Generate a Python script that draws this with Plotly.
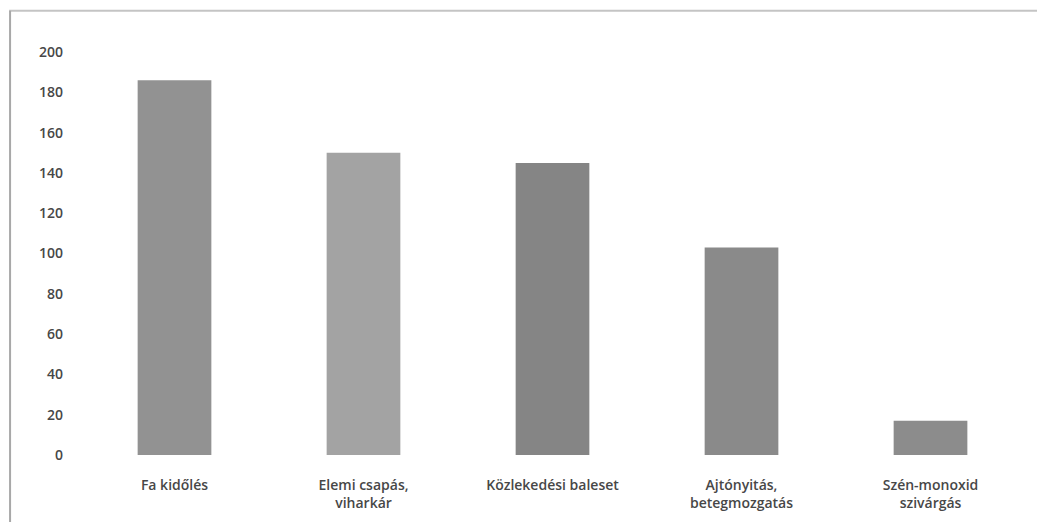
import plotly.graph_objects as go

# categories and values
categories = ["Fa kidőlés", "Elemi csapás,<br>viharkár", "Közlekedési baleset",
              "Ajtónyitás,<br>betegmozgatás", "Szén-monoxid<br>szivárgás"]
values = [186, 150, 145, 103, 17]
bar_colors = ["#929292", "#a3a3a3", "#858585", "#8a8a8a", "#8c8c8c"]
y_ticks = [0, 20, 40, 60, 80, 100, 120, 140, 160, 180, 200]

fig = go.Figure()
fig.add_trace(go.Bar(x=categories, y=values, marker_color=bar_colors,
                     marker_line_width=0, width=0.39))

# page body adds an 8px offset, margins compensate for it
fig.update_layout(
    width=1045, height=522,
    margin=dict(l=72, r=28, t=24, b=75),
    paper_bgcolor="white", plot_bgcolor="white",
    showlegend=False,
    font=dict(family="Open Sans", size=14, color="#474747", weight=600),
)
fig.update_xaxes(showgrid=False, showline=False, ticks="", ticklabelstandoff=20)
fig.update_yaxes(range=[0, 210], tickvals=y_ticks, showgrid=False, zeroline=False,
                 showline=False, ticks="", ticklabelstandoff=16)

# outer chart frame (top and left edges visible in the scan)
fig.add_shape(type="line", xref="paper", yref="paper", x0=-0.075, x1=1.03,
              y0=1.05, y1=1.05, line=dict(color="#c4c4c4", width=2))
fig.add_shape(type="line", xref="paper", yref="paper", x0=-0.074, x1=-0.074,
              y0=1.05, y1=-0.16, line=dict(color="#a8a8a8", width=2))

fig.write_html("out.html")
